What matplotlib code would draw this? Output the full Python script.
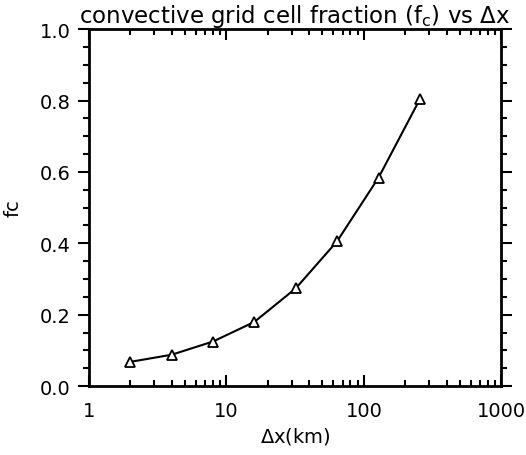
import numpy as np
import matplotlib
matplotlib.use('Agg')
import matplotlib.pyplot as plt
from matplotlib.ticker import LogLocator, MultipleLocator, FixedLocator, FixedFormatter

#grid spacing (km) and convective fraction
dx = [2, 4, 8, 16, 32, 64, 128, 256]
fc = [0.068, 0.088, 0.125, 0.180, 0.274, 0.406, 0.584, 0.804]
xticks = [1, 10, 100, 1000]
xticklabels = ['1', '10', '100', '1000']

plt.rcParams['font.family'] = ['DejaVu Sans']
fig = plt.figure(figsize=(5.26, 4.56), dpi=100)
ax = fig.add_axes([0.169, 0.151, 0.784, 0.783])

ax.plot(dx, fc, color='black', lw=1.5, marker='^', mfc='white', mec='black', ms=7, mew=1.3)

ax.set_xscale('log')
ax.set_xlim(1, 1000)
ax.set_ylim(0, 1)
ax.xaxis.set_major_locator(FixedLocator(xticks))
ax.xaxis.set_major_formatter(FixedFormatter(xticklabels))
ax.xaxis.set_minor_locator(LogLocator(base=10, subs=np.arange(2, 10)))
ax.yaxis.set_major_locator(MultipleLocator(0.2))
ax.yaxis.set_minor_locator(MultipleLocator(0.05))
ax.yaxis.set_major_formatter(plt.FuncFormatter(lambda v, p: '%.1f' % v))

for s in ax.spines.values():
    s.set_linewidth(2)
ax.tick_params(axis='x', which='both', direction='in', top=True, bottom=True, labelsize=14, width=1.5, pad=11)
ax.tick_params(axis='x', which='major', length=8)
ax.tick_params(axis='x', which='minor', length=4)
ax.tick_params(axis='y', which='both', direction='out', left=True, right=True, labelsize=14, width=1.5, pad=5)
ax.tick_params(axis='y', which='major', length=8)
ax.tick_params(axis='y', which='minor', length=4)

ax.set_xlabel(r'$\Delta$x(km)', fontsize=14, labelpad=3)
ax.set_ylabel('fc', fontsize=14)
ax.yaxis.set_label_coords(-0.16, 0.5)
ax.set_title(r'convective grid cell fraction (f$_\mathregular{c}$) vs $\Delta$x', fontsize=16.5, pad=5)

fig.savefig('out.png', dpi=100)
